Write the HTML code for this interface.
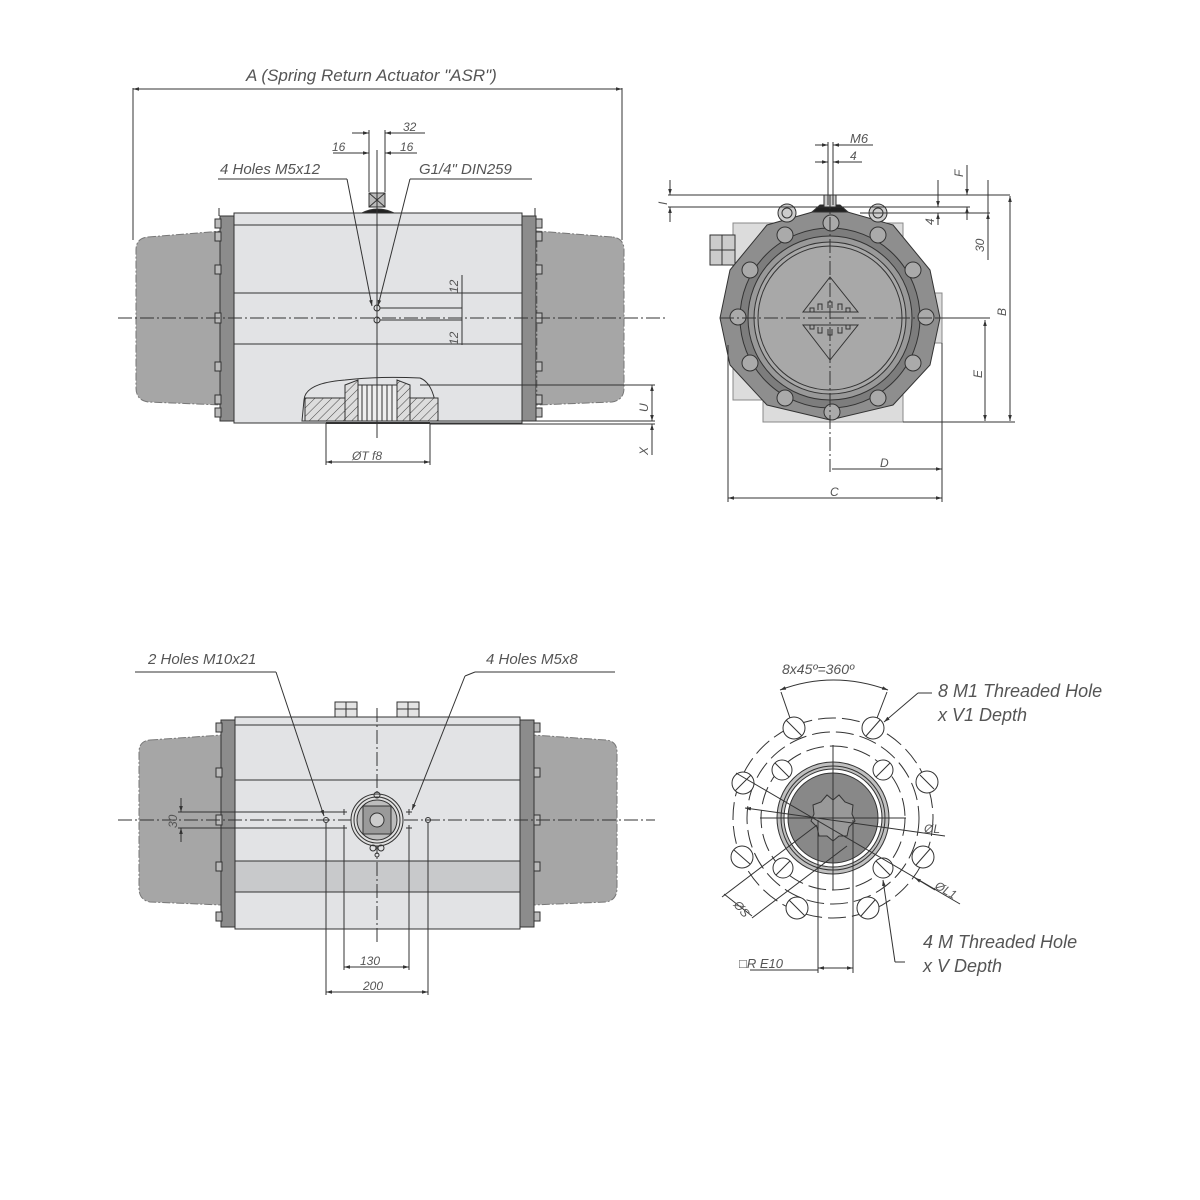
<!DOCTYPE html>
<html><head><meta charset="utf-8"><style>
html,body{margin:0;padding:0;background:#fff;}
svg{display:block}
text{font-family:"Liberation Sans",sans-serif;font-style:italic;fill:#555;}
</style></head><body>
<svg width="1200" height="1200" viewBox="0 0 1200 1200" xmlns="http://www.w3.org/2000/svg">
<defs>
<marker id="ar" viewBox="0 0 10 10" refX="10" refY="5" markerWidth="6" markerHeight="6" orient="auto-start-reverse"><path d="M0,2 L10,5 L0,8 z" fill="#333"/></marker>
<pattern id="hatch" width="6" height="6" patternUnits="userSpaceOnUse" patternTransform="rotate(45)"><rect width="6" height="6" fill="#ddd"/><line x1="0" y1="0" x2="0" y2="6" stroke="#444" stroke-width="1"/></pattern>
</defs>
<g stroke="#333" stroke-width="1" fill="none">

<!-- ================= TOP LEFT VIEW ================= -->
<!-- A dimension -->
<line x1="133" y1="88" x2="133" y2="240"/>
<line x1="622" y1="88" x2="622" y2="240"/>
<line x1="133" y1="89" x2="622" y2="89" marker-end="url(#ar)" marker-start="url(#ar)"/>
<!-- springs -->
<path d="M148,237 L222,231 L222,405 L148,402 Q136,400 136,388 L136,250 Q136,238 148,237 Z" fill="#a6a6a6" stroke="#777" stroke-dasharray="8,2,2,2"/>
<path d="M612,237 L537,231 L537,405 L612,402 Q624,400 624,388 L624,250 Q624,238 612,237 Z" fill="#a6a6a6" stroke="#777" stroke-dasharray="8,2,2,2"/>
<!-- end plates -->
<rect x="220" y="216" width="14" height="205" fill="#8c8c8c"/>
<rect x="522" y="216" width="14" height="205" fill="#8c8c8c"/>
<g fill="#bbb">
<rect x="215" y="219" width="6" height="9"/><rect x="215" y="232" width="6" height="9"/><rect x="215" y="265" width="6" height="9"/><rect x="215" y="313" width="6" height="10"/><rect x="215" y="362" width="6" height="9"/><rect x="215" y="395" width="6" height="9"/><rect x="215" y="408" width="6" height="9"/>
<rect x="536" y="219" width="6" height="9"/><rect x="536" y="232" width="6" height="9"/><rect x="536" y="265" width="6" height="9"/><rect x="536" y="313" width="6" height="10"/><rect x="536" y="362" width="6" height="9"/><rect x="536" y="395" width="6" height="9"/><rect x="536" y="408" width="6" height="9"/>
</g>
<line x1="219" y1="208" x2="219" y2="216"/><line x1="535" y1="208" x2="535" y2="216"/>
<!-- body -->
<rect x="234" y="213" width="288" height="210" fill="#e2e3e5"/>
<line x1="234" y1="225" x2="522" y2="225"/>
<line x1="234" y1="293" x2="522" y2="293"/>
<line x1="234" y1="344" x2="522" y2="344"/>
<!-- top port -->
<rect x="369" y="193" width="16" height="14" fill="#bbb"/>
<path d="M369,193 L385,207 M385,193 L369,207"/>
<path d="M362,213 Q377,205 394,213 Z" fill="#222"/>
<!-- pinion section -->
<path d="M304,400 Q305,383 345,380 Q378,376 420,378 Q436,384 437,421 L302,421 Z" fill="#e2e3e5"/>
<rect x="305" y="398" width="40" height="23" fill="url(#hatch)"/>
<rect x="410" y="398" width="28" height="23" fill="url(#hatch)"/>
<path d="M345,385 L358,380 L358,421 L345,421 Z" fill="url(#hatch)"/>
<path d="M397,380 L410,385 L410,421 L397,421 Z" fill="url(#hatch)"/>
<rect x="358" y="385" width="39" height="36" fill="#eee"/>
<line x1="362" y1="385" x2="362" y2="421"/><line x1="367" y1="385" x2="367" y2="421"/><line x1="372" y1="385" x2="372" y2="421"/><line x1="382" y1="385" x2="382" y2="421"/><line x1="387" y1="385" x2="387" y2="421"/><line x1="392" y1="385" x2="392" y2="421"/>
<line x1="326" y1="423" x2="430" y2="423" stroke-width="2"/>
<!-- centerlines -->
<line x1="118" y1="318" x2="665" y2="318" stroke-dasharray="14,3,2,3"/>
<line x1="377" y1="150" x2="377" y2="438"/>
<!-- holes -->
<circle cx="377" cy="308" r="3"/><circle cx="377" cy="320" r="3"/>
<line x1="380" y1="308" x2="462" y2="308"/><line x1="380" y1="320" x2="462" y2="320"/>
<line x1="462" y1="275" x2="462" y2="345"/>
<text x="458" y="293" font-size="12" transform="rotate(-90 458 293)" stroke="none">12</text>
<text x="458" y="345" font-size="12" transform="rotate(-90 458 345)" stroke="none">12</text>
<!-- 32/16 dims -->
<line x1="369" y1="130" x2="369" y2="192"/><line x1="385" y1="130" x2="385" y2="192"/><line x1="377" y1="150" x2="377" y2="192"/>
<line x1="352" y1="133" x2="369" y2="133" marker-end="url(#ar)"/><line x1="402" y1="133" x2="385" y2="133" marker-end="url(#ar)"/><line x1="402" y1="133" x2="425" y2="133"/>
<line x1="333" y1="153" x2="369" y2="153" marker-end="url(#ar)"/><line x1="417" y1="153" x2="385" y2="153" marker-end="url(#ar)"/>
<!-- leaders -->
<line x1="218" y1="179" x2="347" y2="179"/><line x1="347" y1="179" x2="372" y2="306" marker-end="url(#ar)"/>
<line x1="532" y1="179" x2="410" y2="179"/><line x1="410" y1="179" x2="378" y2="306" marker-end="url(#ar)"/>
<!-- U X -->
<line x1="420" y1="385" x2="655" y2="385"/>
<line x1="430" y1="421" x2="655" y2="421"/><line x1="430" y1="424" x2="655" y2="424"/>
<line x1="652" y1="385" x2="652" y2="421" marker-start="url(#ar)" marker-end="url(#ar)"/>
<line x1="652" y1="424" x2="652" y2="455" marker-start="url(#ar)"/>
<text x="648" y="412" font-size="12" transform="rotate(-90 648 412)" stroke="none">U</text>
<text x="648" y="455" font-size="12" transform="rotate(-90 648 455)" stroke="none">X</text>
<!-- OT -->
<line x1="326" y1="423" x2="326" y2="465"/><line x1="430" y1="423" x2="430" y2="465"/>
<line x1="326" y1="462" x2="430" y2="462" marker-start="url(#ar)" marker-end="url(#ar)"/>

<!-- ================= TOP RIGHT VIEW ================= -->
<path d="M733,223 L903,223 L903,293 L942,293 L942,343 L903,343 L903,422 L763,422 L763,400 L733,400 Z" fill="#dcdcdc" stroke="#888"/>
<rect x="710" y="235" width="25" height="30" fill="#ccc"/><line x1="710" y1="250" x2="735" y2="250"/><line x1="722" y1="235" x2="722" y2="265"/>
<polygon points="830,207 893,225 930,270 940,318 930,365 893,405 830,420 767,405 730,365 720,318 730,270 767,225" fill="#8e8e8e" stroke="#333"/>
<circle cx="830" cy="318" r="90" fill="#7d7d7d"/>
<circle cx="830" cy="318" r="82" fill="#999"/>
<circle cx="830" cy="318" r="76" fill="#a8a8a8"/>
<circle cx="830" cy="318" r="72"/>
<g fill="#aaa">
<circle cx="831" cy="223" r="8"/><circle cx="750" cy="270" r="8"/><circle cx="738" cy="317" r="8"/><circle cx="750" cy="363" r="8"/><circle cx="785" cy="398" r="8"/><circle cx="832" cy="412" r="8"/><circle cx="878" cy="398" r="8"/><circle cx="913" cy="363" r="8"/><circle cx="926" cy="317" r="8"/><circle cx="913" cy="270" r="8"/><circle cx="785" cy="235" r="8"/><circle cx="878" cy="235" r="8"/>
</g>
<g fill="#ccc"><circle cx="787" cy="213" r="9"/><circle cx="878" cy="213" r="9"/></g>
<g fill="none"><circle cx="787" cy="213" r="5"/><circle cx="878" cy="213" r="5"/></g>
<path d="M812,212 L820,205 L840,205 L848,212 Z" fill="#222"/>
<rect x="824" y="195" width="12" height="12" fill="#ccc"/>
<!-- diamond gears -->
<path d="M830,277 L858,312 L803,312 Z M803,325 L858,325 L830,360 Z" fill="#a8a8a8"/>
<path d="M810,312 l0,-4 l4,0 l0,4 M818,310 l0,-6 l4,0 l0,6 M828,308 l0,-6 l4,0 l0,6 M838,310 l0,-6 l4,0 l0,6 M846,312 l0,-4 l4,0 l0,4"/>
<path d="M810,325 l0,4 l4,0 l0,-4 M818,327 l0,6 l4,0 l0,-6 M828,329 l0,6 l4,0 l0,-6 M838,327 l0,6 l4,0 l0,-6 M846,325 l0,4 l4,0 l0,-4"/>
<line x1="720" y1="318" x2="945" y2="318" stroke-dasharray="14,3,2,3"/>
<line x1="830" y1="195" x2="830" y2="472" stroke-dasharray="14,3,2,3"/>
<!-- top dims -->
<line x1="828" y1="142" x2="828" y2="205"/><line x1="833" y1="142" x2="833" y2="205"/>
<line x1="815" y1="145" x2="828" y2="145" marker-end="url(#ar)"/><line x1="846" y1="145" x2="833" y2="145" marker-end="url(#ar)"/><line x1="846" y1="145" x2="873" y2="145"/>
<line x1="815" y1="162" x2="828" y2="162" marker-end="url(#ar)"/><line x1="846" y1="162" x2="833" y2="162" marker-end="url(#ar)"/><line x1="846" y1="162" x2="862" y2="162"/>
<line x1="668" y1="195" x2="1010" y2="195"/>
<line x1="668" y1="207" x2="970" y2="207"/>
<line x1="860" y1="213" x2="990" y2="213"/>
<line x1="670" y1="180" x2="670" y2="195" marker-end="url(#ar)"/><line x1="670" y1="222" x2="670" y2="207" marker-end="url(#ar)"/>
<line x1="938" y1="180" x2="938" y2="207" marker-end="url(#ar)"/><line x1="938" y1="225" x2="938" y2="213" marker-end="url(#ar)"/>
<line x1="967" y1="165" x2="967" y2="195" marker-end="url(#ar)"/><line x1="967" y1="220" x2="967" y2="207" marker-end="url(#ar)"/>
<line x1="988" y1="180" x2="988" y2="213"/><line x1="988" y1="213" x2="988" y2="260" marker-start="url(#ar)"/>
<line x1="903" y1="422" x2="1015" y2="422"/>
<line x1="935" y1="318" x2="990" y2="318"/>
<line x1="1010" y1="196" x2="1010" y2="421" marker-start="url(#ar)" marker-end="url(#ar)"/>
<line x1="985" y1="320" x2="985" y2="421" marker-start="url(#ar)" marker-end="url(#ar)"/>
<!-- C D -->
<line x1="728" y1="345" x2="728" y2="502"/><line x1="942" y1="343" x2="942" y2="502"/>
<line x1="832" y1="469" x2="942" y2="469" marker-end="url(#ar)"/>
<line x1="728" y1="498" x2="942" y2="498" marker-start="url(#ar)" marker-end="url(#ar)"/>

<!-- ================= BOTTOM LEFT VIEW ================= -->
<path d="M150,740 L222,735 L222,905 L150,902 Q139,900 139,888 L139,752 Q139,741 150,740 Z" fill="#a6a6a6" stroke="#777" stroke-dasharray="8,2,2,2"/>
<path d="M606,740 L533,735 L533,905 L606,902 Q617,900 617,888 L617,752 Q617,741 606,740 Z" fill="#a6a6a6" stroke="#777" stroke-dasharray="8,2,2,2"/>
<rect x="221" y="720" width="14" height="207" fill="#8c8c8c"/>
<rect x="520" y="720" width="14" height="207" fill="#8c8c8c"/>
<g fill="#bbb">
<rect x="216" y="723" width="6" height="9"/><rect x="216" y="768" width="6" height="9"/><rect x="216" y="815" width="6" height="10"/><rect x="216" y="862" width="6" height="9"/><rect x="216" y="912" width="6" height="9"/>
<rect x="534" y="723" width="6" height="9"/><rect x="534" y="768" width="6" height="9"/><rect x="534" y="815" width="6" height="10"/><rect x="534" y="862" width="6" height="9"/><rect x="534" y="912" width="6" height="9"/>
</g>
<rect x="235" y="717" width="285" height="212" fill="#e2e3e5"/>
<line x1="235" y1="725" x2="520" y2="725"/>
<line x1="235" y1="780" x2="520" y2="780"/>
<rect x="235" y="861" width="285" height="31" fill="#c8c9cb"/>
<g fill="#e4e4e4"><rect x="335" y="702" width="22" height="15"/><rect x="397" y="702" width="22" height="15"/></g>
<line x1="346" y1="702" x2="346" y2="717"/><line x1="335" y1="709" x2="357" y2="709"/>
<line x1="408" y1="702" x2="408" y2="717"/><line x1="397" y1="709" x2="419" y2="709"/>
<line x1="118" y1="820" x2="655" y2="820" stroke-dasharray="14,3,2,3"/>
<line x1="377" y1="708" x2="377" y2="945" stroke-dasharray="14,3,2,3"/>
<!-- pinion -->
<circle cx="377" cy="820" r="26" fill="#e0e0e0"/>
<circle cx="377" cy="820" r="23"/>
<circle cx="377" cy="820" r="20" fill="#bdbdbd"/>
<rect x="363" y="806" width="28" height="28" fill="#9a9a9a"/>
<circle cx="377" cy="820" r="7" fill="#ccc"/>
<circle cx="377" cy="795" r="3"/><circle cx="373" cy="848" r="3"/><circle cx="381" cy="848" r="3"/><circle cx="377" cy="855" r="2"/>
<circle cx="326" cy="820" r="2.5"/><circle cx="428" cy="820" r="2.5"/>
<path d="M341,812 h6 M344,809 v6 M341,828 h6 M344,825 v6 M406,812 h6 M409,809 v6 M406,828 h6 M409,825 v6"/>
<line x1="178" y1="812" x2="344" y2="812"/><line x1="178" y1="828" x2="344" y2="828"/>
<line x1="181" y1="798" x2="181" y2="812" marker-end="url(#ar)"/><line x1="181" y1="842" x2="181" y2="828" marker-end="url(#ar)"/>
<text x="177" y="828" font-size="12" transform="rotate(-90 177 828)" stroke="none">30</text>
<line x1="344" y1="828" x2="344" y2="970"/><line x1="409" y1="828" x2="409" y2="970"/>
<line x1="326" y1="823" x2="326" y2="995"/><line x1="428" y1="823" x2="428" y2="995"/>
<line x1="344" y1="967" x2="409" y2="967" marker-start="url(#ar)" marker-end="url(#ar)"/>
<line x1="326" y1="992" x2="428" y2="992" marker-start="url(#ar)" marker-end="url(#ar)"/>
<line x1="135" y1="672" x2="276" y2="672"/><line x1="276" y1="672" x2="324" y2="816" marker-end="url(#ar)"/>
<line x1="475" y1="672" x2="615" y2="672"/><line x1="465" y1="676" x2="412" y2="810" marker-end="url(#ar)"/>
<line x1="465" y1="676" x2="475" y2="672"/>

<!-- ================= BOTTOM RIGHT VIEW ================= -->
<g stroke-dasharray="18,6">
<circle cx="833" cy="818" r="100"/>
<circle cx="833" cy="818" r="72"/>
<circle cx="833" cy="818" r="86"/>
</g>
<circle cx="833" cy="818" r="56" fill="#c0c0c0"/>
<circle cx="833" cy="818" r="52"/><circle cx="833" cy="818" r="49" fill="#fff"/>
<circle cx="833" cy="818" r="45" fill="#888"/>
<path d="M833,800 l6,-5 l6,7 l8,3 l-1,9 l3,7 l-6,6 l-2,9 l-8,0 l-6,5 l-6,-5 l-8,0 l-2,-9 l-6,-6 l3,-7 l-1,-9 l8,-3 l6,-7 z" fill="#999" stroke="#333"/>
<g fill="#fff">
<circle cx="794" cy="728" r="11"/><circle cx="873" cy="728" r="11"/><circle cx="743" cy="783" r="11"/><circle cx="927" cy="782" r="11"/><circle cx="742" cy="857" r="11"/><circle cx="923" cy="857" r="11"/><circle cx="797" cy="908" r="11"/><circle cx="868" cy="908" r="11"/>
<circle cx="782" cy="770" r="10"/><circle cx="883" cy="770" r="10"/><circle cx="783" cy="868" r="10"/><circle cx="883" cy="868" r="10"/>
</g>
<path d="M786,720 l16,16 M866,736 l14,-16 M735,791 l16,-16 M920,775 l14,14 M734,850 l16,14 M916,865 l14,-16 M789,900 l16,16 M861,916 l14,-16 M775,763 l14,14 M876,777 l14,-14 M776,875 l14,-14 M876,861 l14,14"/>
<line x1="760" y1="818" x2="906" y2="818"/><line x1="833" y1="745" x2="833" y2="890"/>
<!-- angle arc -->
<path d="M780,690 Q833,670 888,690" marker-start="url(#ar)" marker-end="url(#ar)"/>
<line x1="781" y1="692" x2="790" y2="718"/><line x1="887" y1="692" x2="877" y2="718"/>
<!-- leader 8 M1 -->
<line x1="932" y1="693" x2="918" y2="693"/><line x1="918" y1="693" x2="884" y2="722" marker-end="url(#ar)"/>
<!-- leader 4 M -->
<line x1="905" y1="962" x2="895" y2="962"/><line x1="895" y1="962" x2="883" y2="880" marker-end="url(#ar)"/>
<!-- OL / OL1 -->
<line x1="745" y1="808" x2="945" y2="836" marker-start="url(#ar)"/>
<line x1="736" y1="773" x2="960" y2="904"/>
<path d="M935,890 l-20,-12" marker-end="url(#ar)"/>
<!-- OS -->
<line x1="722" y1="897" x2="817" y2="825"/><line x1="752" y1="918" x2="847" y2="846"/>
<line x1="724" y1="894" x2="752" y2="916"/>
<!-- R -->
<line x1="818" y1="820" x2="818" y2="973"/><line x1="853" y1="820" x2="853" y2="973"/>
<line x1="818" y1="968" x2="853" y2="968" marker-start="url(#ar)" marker-end="url(#ar)"/>
<line x1="750" y1="970" x2="818" y2="970"/>
</g>

<!-- ================= TEXT ================= -->
<text x="246" y="81" font-size="17">A (Spring Return Actuator "ASR")</text>
<text x="403" y="131" font-size="12">32</text>
<text x="332" y="151" font-size="12">16</text>
<text x="400" y="151" font-size="12">16</text>
<text x="220" y="174" font-size="15">4 Holes M5x12</text>
<text x="419" y="174" font-size="15">G1/4" DIN259</text>
<text x="352" y="460" font-size="12">ØT  f8</text>
<text x="850" y="143" font-size="13">M6</text>
<text x="850" y="160" font-size="12">4</text>
<text x="667" y="205" font-size="12" transform="rotate(-90 667 205)">I</text>
<text x="963" y="177" font-size="12" transform="rotate(-90 963 177)">F</text>
<text x="934" y="225" font-size="12" transform="rotate(-90 934 225)">4</text>
<text x="984" y="252" font-size="12" transform="rotate(-90 984 252)">30</text>
<text x="1006" y="316" font-size="12" transform="rotate(-90 1006 316)">B</text>
<text x="982" y="378" font-size="12" transform="rotate(-90 982 378)">E</text>
<text x="880" y="467" font-size="12">D</text>
<text x="830" y="496" font-size="12">C</text>
<text x="148" y="664" font-size="15">2 Holes M10x21</text>
<text x="486" y="664" font-size="15">4 Holes M5x8</text>
<text x="360" y="965" font-size="12">130</text>
<text x="363" y="990" font-size="12">200</text>
<text x="782" y="674" font-size="14">8x45º=360º</text>
<text x="938" y="697" font-size="18">8 M1 Threaded Hole</text>
<text x="938" y="721" font-size="18">x V1 Depth</text>
<text x="923" y="948" font-size="18">4 M Threaded Hole</text>
<text x="923" y="972" font-size="18">x V Depth</text>
<text x="924" y="833" font-size="12">ØL</text>
<text x="934" y="888" font-size="12" transform="rotate(30 934 888)">ØL1</text>
<text x="733" y="905" font-size="12" transform="rotate(50 733 905)">ØS</text>
<text x="739" y="968" font-size="13">□R E10</text>
</svg>
</body></html>
